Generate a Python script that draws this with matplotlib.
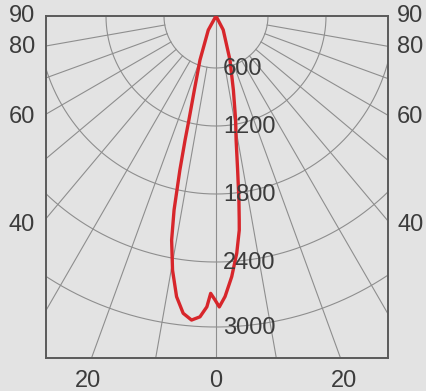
import numpy as np
import matplotlib
matplotlib.use("Agg")
import matplotlib.pyplot as plt

# luminous intensity (cd), angle in degrees (negative = left)
gamma = [-32, -28.8, -20, -16.3, -14.6, -14.0, -13.2, -12.2, -11.2, -9.7, -8.0,
         -6.3, -4.6, -3.05, -1.8, -1.1, -0.2, 0.65, 1.85, 3.45, 5.0, 6.2, 6.5,
         7.1, 8.0, 9.2, 10.7, 13.2, 17.6, 27.5, 32]
intensity = [0, 185, 540, 860, 1173, 1357, 1625, 1980, 2245, 2510, 2745,
             2890, 2945, 2910, 2815, 2690, 2750, 2815, 2720, 2540, 2330, 2130,
             2040, 1865, 1600, 1340, 1155, 850, 535, 180, 0]

ring_values = [600, 1200, 1800, 2400, 3000]
side_ticks = [90, 80, 60, 40]
bottom_ticks = [-20, 0, 20]

# radial scale of the drawing (rings are not evenly spaced)
scale_cd = [0, 600, 1200, 1800, 2400, 3000]
scale_r = [0, 52, 110, 178, 246, 311]


def rad(v):
    return np.interp(v, scale_cd, scale_r)


def to_xy(theta_deg, r):
    t = np.radians(theta_deg)
    return r * np.sin(t), r * np.cos(t)


bg = "#e3e3e3"
grid_c = "#8e8e8e"
txt_c = "#3c3c3c"
font = "Liberation Sans"

fig = plt.figure(figsize=(4.26, 3.91), dpi=100, facecolor=bg)
ax = fig.add_axes([46 / 426, 33 / 391, 342 / 426, 342 / 391])
ax.set_facecolor(bg)
ax.set_xlim(-170, 172)
ax.set_ylim(342, 0)
ax.set_xticks([])
ax.set_yticks([])
for s in ax.spines.values():
    s.set_color("#5a5a5a")
    s.set_linewidth(1.4)

# rings
th = np.linspace(-90, 90, 361)
for v in ring_values:
    x, y = to_xy(th, rad(v))
    ax.plot(x, y, color=grid_c, lw=0.8, zorder=1)

# radial lines every 10 deg, starting at first ring
r0 = rad(ring_values[0])
for a in range(-80, 90, 10):
    start = 0 if a == 0 else r0
    x, y = to_xy(np.array([a, a]), np.array([start, 700]))
    ax.plot(x, y, color=grid_c, lw=0.8, zorder=1)

# intensity curve
x, y = to_xy(np.array(gamma), rad(np.array(intensity)))
ax.plot(x, y, color="#d7262b", lw=2.4, solid_joinstyle="round", zorder=3)

# ring labels
for v in ring_values:
    ax.text(7, rad(v) + 1, str(v), color=txt_c, fontsize=17, va="center",
            ha="left", family=font, zorder=4)

# side angle labels
for a in side_ticks:
    yy = 170 / np.tan(np.radians(a)) if a < 90 else 0
    yy = yy * 1.03
    ax.text(-181, yy, str(a), color=txt_c, fontsize=17, va="center",
            ha="right", family=font, clip_on=False)
    ax.text(181, yy, str(a), color=txt_c, fontsize=17, va="center",
            ha="left", family=font, clip_on=False)

# bottom angle labels
for a in bottom_ticks:
    xx = 342 * np.tan(np.radians(a))
    ax.text(xx * 1.03, 365, str(abs(a)), color=txt_c, fontsize=17, va="center",
            ha="center", family=font, clip_on=False)

fig.savefig("out.png", dpi=100, facecolor=bg)
